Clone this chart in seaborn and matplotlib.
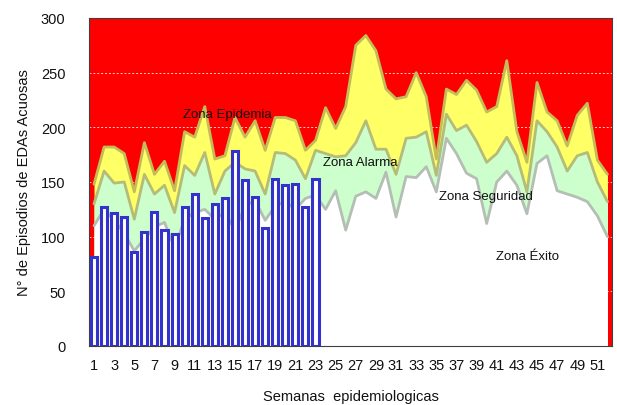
import numpy as np
import pandas as pd
import matplotlib
matplotlib.use("Agg")
import matplotlib.pyplot as plt
import seaborn as sns

weeks = list(range(1, 53))

# Upper limit of the success zone (white)
exito = [110, 125, 115, 103, 87, 98, 109, 113, 90, 116, 122, 125, 116, 122, 106, 128,
         133, 115, 128, 132, 125, 135, 138, 125, 142, 106, 137, 141, 135, 159, 118, 155,
         154, 164, 141, 190, 176, 158, 153, 112, 150, 160, 147, 121, 167, 174, 142, 139,
         136, 132, 119, 100]
# Upper limit of the security zone (green)
seguridad = [130, 160, 149, 150, 116, 157, 139, 147, 122, 165, 156, 177, 139, 160, 168, 162,
             160, 139, 177, 176, 170, 153, 179, 176, 173, 174, 186, 206, 180, 180, 157, 190,
             191, 196, 156, 212, 197, 202, 187, 168, 176, 191, 174, 141, 206, 196, 182, 160,
             174, 177, 150, 132]
# Upper limit of the alarm zone (yellow)
alarma = [148, 182, 182, 176, 141, 186, 157, 169, 142, 196, 191, 219, 171, 174, 209, 191,
          206, 179, 209, 209, 206, 179, 188, 218, 199, 219, 275, 284, 270, 235, 226, 228,
          250, 228, 171, 235, 230, 243, 234, 214, 219, 261, 196, 168, 241, 214, 206, 183,
          211, 222, 170, 157]

# Observed cases (weeks 1-23)
obs_weeks = list(range(1, 24))
casos = [81, 127, 122, 118, 86, 104, 123, 106, 102, 127, 139, 117, 130, 135, 178, 152,
         136, 108, 153, 147, 148, 127, 153]

xticks = list(range(1, 52, 2))
yticks = [0, 50, 100, 150, 200, 250, 300]

sns.set_theme(style="white")
plt.rcParams["font.family"] = ["Liberation Sans", "DejaVu Sans"]

fig = plt.figure(figsize=(6.17, 4.06), dpi=100)
ax = fig.add_axes([89 / 617, 59 / 406, 523 / 617, 328 / 406])
ax.set_facecolor("#FF0000")

zones = pd.DataFrame({"semana": weeks, "exito": exito,
                      "seguridad": seguridad, "alarma": alarma})

ax.fill_between(zones["semana"], 0, zones["alarma"], color="#FFFF66", zorder=2, lw=0)
ax.fill_between(zones["semana"], 0, zones["seguridad"], color="#CCFFCC", zorder=3, lw=0)
ax.fill_between(zones["semana"], 0, zones["exito"], color="white", zorder=4, lw=0)

sns.lineplot(data=zones, x="semana", y="alarma", ax=ax, color="#C4BC58", lw=2.0, zorder=5)
sns.lineplot(data=zones, x="semana", y="seguridad", ax=ax, color="#B4BC78", lw=2.0, zorder=5)
sns.lineplot(data=zones, x="semana", y="exito", ax=ax, color="#B4BEB4", lw=2.0, zorder=5)

bars = pd.DataFrame({"semana": obs_weeks, "casos": casos})
sns.barplot(data=bars, x="semana", y="casos", native_scale=True, width=0.6,
            color="white", edgecolor="#3333CC", linewidth=2.2, errorbar=None,
            saturation=1, ax=ax, zorder=6)
for p in ax.patches:
    p.set_zorder(6)
    p.set_facecolor("white")

ax.set_xlim(0.5, 52.45)
ax.set_ylim(0, 300)
ax.set_xticks(xticks)
ax.set_xticklabels([str(t) for t in xticks])
ax.set_yticks(yticks)
ax.yaxis.grid(True, color="white", linestyle=(0, (2, 2)), lw=0.7, alpha=0.8, zorder=1)
ax.set_axisbelow(True)
ax.tick_params(axis="x", length=0, pad=9, labelsize=10.5, colors="#111111")
ax.tick_params(axis="y", length=0, pad=17, labelsize=10.5, colors="#111111")

for s in ax.spines.values():
    s.set_color("#404040")
    s.set_linewidth(0.8)
    s.set_zorder(10)

ax.set_xlabel("Semanas  epidemiologicas", fontsize=10.5, color="#111111", labelpad=12)
ax.set_ylabel("N° de Episodios de EDAs Acuosas", fontsize=10.5, color="#111111", labelpad=7)

txt = dict(fontsize=9.5, color="#111111", ha="center", va="center", zorder=8)
ax.text(14.2, 212, "Zona Epidemia", **txt)
ax.text(27.4, 168, "Zona Alarma", **txt)
ax.text(39.9, 137, "Zona Seguridad", **txt)
ax.text(44.1, 82, "Zona Éxito", **txt)

fig.savefig("out.png", dpi=100)
